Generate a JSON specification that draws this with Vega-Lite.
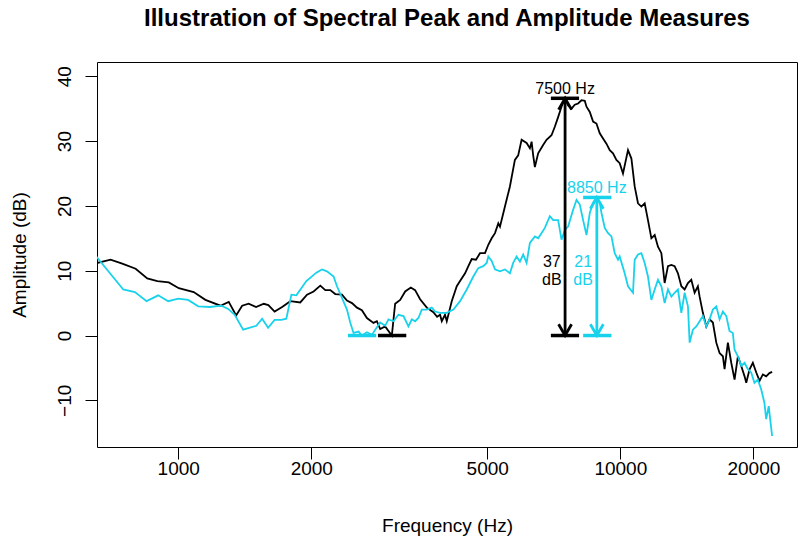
{
  "$schema": "https://vega.github.io/schema/vega-lite/v6.json",
  "width": 700,
  "height": 385,
  "autosize": {"type": "none"},
  "padding": {"left": 97, "top": 62, "right": 4, "bottom": 99},
  "background": "white",
  "title": {"text": "Illustration of Spectral Peak and Amplitude Measures", "font": "Liberation Sans", "fontSize": 24, "fontWeight": "bold", "color": "black", "anchor": "middle", "frame": "group", "baseline": "alphabetic", "offset": 12},
  "config": {
    "view": {"stroke": "black", "strokeWidth": 1},
    "axis": {"domain": false, "grid": false, "ticks": true, "tickColor": "black", "tickSize": 12, "tickWidth": 1, "labelFont": "Liberation Sans", "labelFontSize": 19, "labelColor": "black", "titleFont": "Liberation Sans", "titleFontSize": 19, "titleFontWeight": "normal", "titleColor": "black"}
  },
  "datasets": {
    "spec": [
      {"s":"1","f":647,"db":11.1},{"s":"1","f":703,"db":11.7},{"s":"1","f":747,"db":11.1},{"s":"1","f":801,"db":10.3},{"s":"1","f":851,"db":8.8},{"s":"1","f":897,"db":8.4},{"s":"1","f":952,"db":8.2},{"s":"1","f":1003,"db":7.3},{"s":"1","f":1084,"db":6.7},{"s":"1","f":1152,"db":5.5},{"s":"1","f":1246,"db":4.6},{"s":"1","f":1301,"db":5.2},{"s":"1","f":1352,"db":3.1},{"s":"1","f":1395,"db":4.6},{"s":"1","f":1443,"db":4.9},{"s":"1","f":1500,"db":4.4},{"s":"1","f":1561,"db":4.9},{"s":"1","f":1599,"db":4.7},{"s":"1","f":1652,"db":3.7},{"s":"1","f":1718,"db":4.4},{"s":"1","f":1793,"db":5.3},{"s":"1","f":1888,"db":5.1},{"s":"1","f":1956,"db":6.3},{"s":"1","f":2024,"db":6.8},{"s":"1","f":2096,"db":7.7},{"s":"1","f":2151,"db":7.0},{"s":"1","f":2208,"db":7.0},{"s":"1","f":2266,"db":6.4},{"s":"1","f":2346,"db":6.3},{"s":"1","f":2408,"db":5.4},{"s":"1","f":2472,"db":5.0},{"s":"1","f":2537,"db":4.3},{"s":"1","f":2603,"db":3.9},{"s":"1","f":2672,"db":2.7},{"s":"1","f":2765,"db":1.95},{"s":"1","f":2814,"db":2.2},{"s":"1","f":2863,"db":1.0},{"s":"1","f":2938,"db":1.4},{"s":"1","f":3042,"db":0},{"s":"1","f":3095,"db":4.9},{"s":"1","f":3177,"db":5.5},{"s":"1","f":3261,"db":6.8},{"s":"1","f":3358,"db":7.4},{"s":"1","f":3434,"db":7.0},{"s":"1","f":3525,"db":5.6},{"s":"1","f":3650,"db":4.3},{"s":"1","f":3777,"db":3.6},{"s":"1","f":3851,"db":2.9},{"s":"1","f":3911,"db":3.2},{"s":"1","f":3946,"db":2.2},{"s":"1","f":4013,"db":3.2},{"s":"1","f":4050,"db":2.2},{"s":"1","f":4156,"db":5.3},{"s":"1","f":4266,"db":7.6},{"s":"1","f":4340,"db":8.4},{"s":"1","f":4455,"db":9.6},{"s":"1","f":4532,"db":10.7},{"s":"1","f":4612,"db":11.8},{"s":"1","f":4716,"db":11.7},{"s":"1","f":4815,"db":12.7},{"s":"1","f":4942,"db":12.7},{"s":"1","f":5028,"db":14.0},{"s":"1","f":5117,"db":15.0},{"s":"1","f":5206,"db":15.8},{"s":"1","f":5297,"db":17.3},{"s":"1","f":5343,"db":16.8},{"s":"1","f":5483,"db":19.9},{"s":"1","f":5627,"db":23.0},{"s":"1","f":5775,"db":27.1},{"s":"1","f":5875,"db":27.8},{"s":"1","f":5980,"db":30.2},{"s":"1","f":6138,"db":29.7},{"s":"1","f":6244,"db":28.9},{"s":"1","f":6300,"db":29.9},{"s":"1","f":6352,"db":27.8},{"s":"1","f":6408,"db":26.0},{"s":"1","f":6519,"db":28.1},{"s":"1","f":6690,"db":29.4},{"s":"1","f":6809,"db":30.2},{"s":"1","f":6988,"db":30.9},{"s":"1","f":7110,"db":32.2},{"s":"1","f":7233,"db":33.7},{"s":"1","f":7362,"db":35.3},{"s":"1","f":7500,"db":36.6},{"s":"1","f":7620,"db":35.5},{"s":"1","f":7756,"db":35.0},{"s":"1","f":7889,"db":35.6},{"s":"1","f":8026,"db":35.8},{"s":"1","f":8170,"db":36.3},{"s":"1","f":8311,"db":36.2},{"s":"1","f":8385,"db":35.3},{"s":"1","f":8530,"db":34.5},{"s":"1","f":8678,"db":33.0},{"s":"1","f":8831,"db":32.7},{"s":"1","f":8985,"db":31.2},{"s":"1","f":9140,"db":30.4},{"s":"1","f":9302,"db":29.6},{"s":"1","f":9465,"db":28.6},{"s":"1","f":9627,"db":28.1},{"s":"1","f":9799,"db":27.1},{"s":"1","f":9968,"db":26.6},{"s":"1","f":10141,"db":25.0},{"s":"1","f":10409,"db":28.6},{"s":"1","f":10595,"db":27.3},{"s":"1","f":10777,"db":23.0},{"s":"1","f":10965,"db":20.4},{"s":"1","f":11160,"db":19.9},{"s":"1","f":11354,"db":20.4},{"s":"1","f":11549,"db":17.8},{"s":"1","f":11756,"db":15.0},{"s":"1","f":11961,"db":15.5},{"s":"1","f":12167,"db":13.7},{"s":"1","f":12385,"db":12.7},{"s":"1","f":12597,"db":8.1},{"s":"1","f":12817,"db":10.7},{"s":"1","f":13046,"db":10.9},{"s":"1","f":13270,"db":10.7},{"s":"1","f":13501,"db":9.6},{"s":"1","f":13742,"db":7.6},{"s":"1","f":13979,"db":7.1},{"s":"1","f":14223,"db":8.1},{"s":"1","f":14474,"db":8.6},{"s":"1","f":14726,"db":6.6},{"s":"1","f":14979,"db":7.6},{"s":"1","f":15114,"db":6.0},{"s":"1","f":15374,"db":3.5},{"s":"1","f":15649,"db":1.4},{"s":"1","f":15918,"db":2.5},{"s":"1","f":16195,"db":2.0},{"s":"1","f":16486,"db":-1.1},{"s":"1","f":16770,"db":-2.7},{"s":"1","f":17062,"db":-3.2},{"s":"1","f":17212,"db":-5.2},{"s":"1","f":17512,"db":-1.1},{"s":"1","f":17822,"db":-4.2},{"s":"1","f":18133,"db":-6.8},{"s":"1","f":18449,"db":-3.2},{"s":"1","f":18775,"db":-4.7},{"s":"1","f":19102,"db":-6.3},{"s":"1","f":19270,"db":-7.3},{"s":"1","f":19606,"db":-5.2},{"s":"1","f":19944,"db":-4.2},{"s":"1","f":20300,"db":-5.7},{"s":"1","f":20654,"db":-7.0},{"s":"1","f":21010,"db":-6.0},{"s":"1","f":21376,"db":-6.3},{"s":"1","f":21744,"db":-5.8},{"s":"1","f":22050,"db":-5.6},
      {"s":"2","f":647,"db":12.5},{"s":"2","f":751,"db":7.1},{"s":"2","f":798,"db":6.7},{"s":"2","f":848,"db":5.3},{"s":"2","f":901,"db":6.2},{"s":"2","f":949,"db":5.3},{"s":"2","f":1000,"db":5.7},{"s":"2","f":1053,"db":5.5},{"s":"2","f":1110,"db":4.5},{"s":"2","f":1179,"db":4.4},{"s":"2","f":1252,"db":4.6},{"s":"2","f":1297,"db":4.1},{"s":"2","f":1342,"db":3.2},{"s":"2","f":1402,"db":0.9},{"s":"2","f":1502,"db":1.5},{"s":"2","f":1548,"db":2.6},{"s":"2","f":1597,"db":1.2},{"s":"2","f":1652,"db":2.4},{"s":"2","f":1711,"db":2.4},{"s":"2","f":1756,"db":2.6},{"s":"2","f":1803,"db":6.3},{"s":"2","f":1850,"db":6.2},{"s":"2","f":1949,"db":8.4},{"s":"2","f":2053,"db":9.7},{"s":"2","f":2114,"db":10.2},{"s":"2","f":2170,"db":9.9},{"s":"2","f":2246,"db":9.1},{"s":"2","f":2286,"db":7.6},{"s":"2","f":2346,"db":5.8},{"s":"2","f":2408,"db":4.0},{"s":"2","f":2449,"db":2.0},{"s":"2","f":2492,"db":0.4},{"s":"2","f":2558,"db":0.6},{"s":"2","f":2603,"db":0},{"s":"2","f":2672,"db":0.5},{"s":"2","f":2742,"db":0.1},{"s":"2","f":2790,"db":0.9},{"s":"2","f":2863,"db":2.0},{"s":"2","f":2938,"db":1.5},{"s":"2","f":2989,"db":2.5},{"s":"2","f":3068,"db":2.2},{"s":"2","f":3149,"db":3.2},{"s":"2","f":3232,"db":3.0},{"s":"2","f":3317,"db":1.4},{"s":"2","f":3376,"db":2.5},{"s":"2","f":3434,"db":2.2},{"s":"2","f":3494,"db":2.7},{"s":"2","f":3556,"db":4.0},{"s":"2","f":3650,"db":4.0},{"s":"2","f":3746,"db":4.3},{"s":"2","f":3811,"db":3.7},{"s":"2","f":3911,"db":3.5},{"s":"2","f":4050,"db":3.5},{"s":"2","f":4192,"db":4.0},{"s":"2","f":4340,"db":5.3},{"s":"2","f":4494,"db":7.1},{"s":"2","f":4571,"db":8.1},{"s":"2","f":4650,"db":9.1},{"s":"2","f":4772,"db":10.4},{"s":"2","f":4898,"db":10.7},{"s":"2","f":4986,"db":11.2},{"s":"2","f":5028,"db":12.2},{"s":"2","f":5117,"db":11.5},{"s":"2","f":5206,"db":10.2},{"s":"2","f":5343,"db":9.9},{"s":"2","f":5483,"db":10.2},{"s":"2","f":5627,"db":9.6},{"s":"2","f":5724,"db":11.2},{"s":"2","f":5827,"db":12.2},{"s":"2","f":5928,"db":11.4},{"s":"2","f":6030,"db":12.5},{"s":"2","f":6138,"db":11.2},{"s":"2","f":6244,"db":14.3},{"s":"2","f":6408,"db":15.3},{"s":"2","f":6519,"db":15.0},{"s":"2","f":6636,"db":15.8},{"s":"2","f":6750,"db":16.6},{"s":"2","f":6928,"db":18.4},{"s":"2","f":7050,"db":17.8},{"s":"2","f":7234,"db":17.8},{"s":"2","f":7362,"db":14.8},{"s":"2","f":7491,"db":16.3},{"s":"2","f":7620,"db":16.8},{"s":"2","f":7821,"db":19.4},{"s":"2","f":7961,"db":20.9},{"s":"2","f":8097,"db":20.2},{"s":"2","f":8239,"db":17.8},{"s":"2","f":8385,"db":15.5},{"s":"2","f":8530,"db":18.9},{"s":"2","f":8678,"db":20.5},{"s":"2","f":8850,"db":21.3},{"s":"2","f":8985,"db":20.5},{"s":"2","f":9066,"db":18.9},{"s":"2","f":9222,"db":16.6},{"s":"2","f":9381,"db":15.8},{"s":"2","f":9549,"db":15.3},{"s":"2","f":9713,"db":12.7},{"s":"2","f":9881,"db":11.7},{"s":"2","f":9968,"db":12.2},{"s":"2","f":10230,"db":9.6},{"s":"2","f":10409,"db":7.6},{"s":"2","f":10683,"db":6.6},{"s":"2","f":10777,"db":11.7},{"s":"2","f":10965,"db":12.5},{"s":"2","f":11160,"db":12.7},{"s":"2","f":11354,"db":11.2},{"s":"2","f":11549,"db":9.1},{"s":"2","f":11756,"db":5.5},{"s":"2","f":11961,"db":7.1},{"s":"2","f":12167,"db":8.6},{"s":"2","f":12385,"db":7.6},{"s":"2","f":12597,"db":5.0},{"s":"2","f":12817,"db":7.1},{"s":"2","f":13046,"db":6.0},{"s":"2","f":13270,"db":6.6},{"s":"2","f":13501,"db":7.1},{"s":"2","f":13742,"db":3.5},{"s":"2","f":13979,"db":6.6},{"s":"2","f":14223,"db":4.5},{"s":"2","f":14349,"db":-1.1},{"s":"2","f":14596,"db":0.9},{"s":"2","f":14857,"db":1.4},{"s":"2","f":15114,"db":2.2},{"s":"2","f":15374,"db":3.0},{"s":"2","f":15649,"db":1.4},{"s":"2","f":15918,"db":2.5},{"s":"2","f":16195,"db":4.0},{"s":"2","f":16486,"db":4.5},{"s":"2","f":16770,"db":2.5},{"s":"2","f":17062,"db":3.7},{"s":"2","f":17367,"db":3.0},{"s":"2","f":17660,"db":0.7},{"s":"2","f":17968,"db":0.4},{"s":"2","f":18133,"db":-2.2},{"s":"2","f":18449,"db":-3.2},{"s":"2","f":18775,"db":-4.7},{"s":"2","f":19102,"db":-4.2},{"s":"2","f":19431,"db":-5.2},{"s":"2","f":19770,"db":-5.7},{"s":"2","f":20111,"db":-7.3},{"s":"2","f":20462,"db":-6.8},{"s":"2","f":20828,"db":-8.3},{"s":"2","f":21184,"db":-10.4},{"s":"2","f":21376,"db":-12.9},{"s":"2","f":21664,"db":-10.9},{"s":"2","f":21825,"db":-12.9},{"s":"2","f":22050,"db":-15.5}
    ],
    "seg": [
      {"s":"1","f":2830,"f2":3280,"db":0},{"s":"1","f":6965,"f2":8067,"db":0},{"s":"1","f":6965,"f2":8067,"db":36.6},
      {"s":"2","f":2420,"f2":2804,"db":0},{"s":"2","f":8239,"f2":9549,"db":0},{"s":"2","f":8239,"f2":9549,"db":21.3}
    ],
    "shaft": [
      {"s":"1","f":7500,"db":0,"top":36.6},{"s":"2","f":8850,"db":0,"top":21.3}
    ],
    "heads": [
      {"s":"1","f":7500,"db":36.6,"dir":"up"},{"s":"1","f":7500,"db":0,"dir":"down"},
      {"s":"2","f":8850,"db":21.3,"dir":"up"},{"s":"2","f":8850,"db":0,"dir":"down"}
    ],
    "labels": [
      {"s":"1","f":7500,"db":38.1,"text":"7500 Hz"},{"s":"2","f":8850,"db":22.8,"text":"8850 Hz"},
      {"s":"1","f":7000,"db":11.4,"text":"37"},{"s":"1","f":7000,"db":8.6,"text":"dB"},
      {"s":"2","f":8240,"db":11.4,"text":"21"},{"s":"2","f":8240,"db":8.6,"text":"dB"}
    ]
  },
  "encoding": {
    "x": {"field": "f", "type": "quantitative", "scale": {"type": "log", "domain": [655, 25100], "nice": false},
      "axis": {"values": [1000, 2000, 5000, 10000, 20000], "format": "d", "title": "Frequency (Hz)", "labelPadding": 0, "labelFlush": false, "labelOverlap": false, "titleY": 84, "titleBaseline": "alphabetic"}},
    "y": {"field": "db", "type": "quantitative", "scale": {"domain": [-17.2, 42.2], "nice": false, "zero": false},
      "axis": {"values": [-10, 0, 10, 20, 30, 40], "title": "Amplitude (dB)", "labelAngle": -90, "labelAlign": "center", "labelBaseline": "alphabetic", "labelPadding": 15, "labelFlush": false, "labelOverlap": false, "titleX": -72, "titleBaseline": "alphabetic"}},
    "color": {"field": "s", "type": "nominal", "scale": {"domain": ["1", "2"], "range": ["#000000", "#18D2EC"]}, "legend": null}
  },
  "layer": [
    {"data": {"name": "spec"}, "mark": {"type": "line", "strokeWidth": 1.8, "clip": true}, "encoding": {"detail": {"field": "s"}}},
    {"data": {"name": "seg"}, "mark": {"type": "rule", "strokeWidth": 3.5}, "encoding": {"x2": {"field": "f2"}}},
    {"data": {"name": "shaft"}, "mark": {"type": "rule", "strokeWidth": 2.8}, "encoding": {"y2": {"field": "top"}}},
    {"data": {"name": "heads"}, "mark": {"type": "point", "filled": false, "size": 400, "strokeWidth": 2.8, "opacity": 1},
      "encoding": {"shape": {"field": "dir", "type": "nominal", "scale": {"domain": ["up", "down"], "range": ["M-0.65,1.13L0,0L0.65,1.13", "M-0.65,-1.13L0,0L0.65,-1.13"]}, "legend": null}}},
    {"data": {"name": "labels"}, "mark": {"type": "text", "font": "Liberation Sans", "fontSize": 16, "align": "center", "baseline": "middle"},
      "encoding": {"text": {"field": "text"}}}
  ]
}
